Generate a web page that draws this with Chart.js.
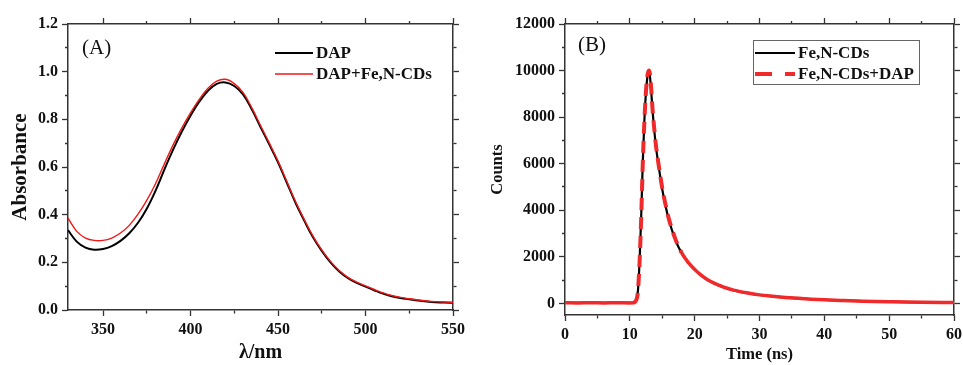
<!DOCTYPE html>
<html>
<head>
<meta charset="utf-8">
<script src="https://cdn.jsdelivr.net/npm/chart.js@4.4.0/dist/chart.umd.min.js"></script>
<style>
    body { margin: 0; background: #fff; }
    canvas { position: absolute; top: 0; }
    #chartA { left: 0; }
    #chartB { left: 480px; }
</style>
</head>
<body>
<canvas id="chartA" width="480" height="365"></canvas>
<canvas id="chartB" width="483" height="365"></canvas>
<script>
// panel A : absorbance spectra
var wavelength = [330,335,340,345,350,355,360,365,370,375,380,385,390,395,400,405,410,415,420,425,430,435,440,445,450,455,460,465,470,475,480,485,490,495,500,505,510,515,520,525,530,535,540,545,550]
var absDAP = [0.335,0.287,0.262,0.253,0.256,0.268,0.290,0.322,0.366,0.425,0.500,0.588,0.672,0.748,0.815,0.874,0.920,0.949,0.955,0.940,0.905,0.842,0.768,0.695,0.620,0.535,0.450,0.375,0.305,0.248,0.200,0.162,0.134,0.114,0.098,0.083,0.069,0.058,0.050,0.045,0.040,0.036,0.033,0.031,0.030]
var absDAPFe = [0.385,0.330,0.302,0.292,0.292,0.302,0.323,0.355,0.402,0.460,0.530,0.612,0.692,0.763,0.827,0.884,0.930,0.960,0.968,0.950,0.913,0.849,0.774,0.701,0.625,0.540,0.455,0.380,0.310,0.252,0.204,0.166,0.137,0.117,0.101,0.086,0.072,0.061,0.053,0.047,0.042,0.038,0.035,0.033,0.032]
var waveTicks = [350,400,450,500,550]
var waveMinor = [375,425,475,525]
var absTicks = [0,0.2,0.4,0.6,0.8,1.0,1.2]
var absMinor = [0.1,0.3,0.5,0.7,0.9,1.1]

// panel B : fluorescence decay
var time = [0,2,4,6,8,10,10.5,11,11.25,11.5,11.75,12,12.25,12.5,12.75,13,13.25,13.5,13.75,14,14.5,15,15.5,16,17,18,19,20,21,22,23,24,25,26,28,30,32,34,36,38,40,43,46,50,55,60]
var countsFe = [20,20,20,20,20,20,25,150,550,1800,3700,6100,7900,9100,9800,9950,9300,8300,7500,6800,5800,4900,4200,3600,2750,2150,1750,1450,1200,1000,860,740,640,560,450,360,300,250,210,180,150,120,95,70,45,35]
var countsFeDAP = [25,20,25,20,25,20,25,140,520,1750,3650,6050,7850,9150,9850,10000,9400,8350,7550,6850,5850,4950,4250,3650,2780,2170,1760,1460,1210,1010,870,750,650,570,455,365,305,255,215,180,150,120,95,70,45,35]
var timeTicks = [0,10,20,30,40,50,60]
var timeMinor = [5,15,25,35,45,55]
var countTicks = [0,2000,4000,6000,8000,10000,12000]
var countMinor = [1000,3000,5000,7000,9000,11000]

var serif = "'Liberation Serif', 'Times New Roman', serif"
var axisColor = '#333'

function toPoints(xs, ys){
    return xs.map(function(x, i){ return {x: x, y: ys[i]} })
}

function makeAxis(pos, major, minor, min, max, size, showLabels, fmt, title){
    var outerFirst = (pos == 'left' || pos == 'top')
    var all = major.concat(minor).sort(function(a, b){ return a - b })
    return {
        type: 'linear',
        position: pos,
        min: min,
        max: max,
        afterBuildTicks: function(scale){
            scale.ticks = all.map(function(v){ return {value: v} })
        },
        afterFit: function(scale){
            if (pos == 'left' || pos == 'right') scale.width = size
            else scale.height = size
            scale.paddingLeft = 0
            scale.paddingRight = 0
            scale.paddingTop = 0
            scale.paddingBottom = 0
        },
        grid: {
            drawOnChartArea: false,
            drawTicks: true,
            tickLength: 6,
            tickWidth: 1.3,
            tickColor: axisColor,
            tickBorderDash: function(ctx){
                return minor.indexOf(ctx.tick.value) >= 0 ? [3, 3] : []
            },
            tickBorderDashOffset: function(ctx){
                return (outerFirst && minor.indexOf(ctx.tick.value) >= 0) ? 3 : 0
            }
        },
        border: { display: true, color: axisColor, width: 1.5 },
        ticks: {
            display: showLabels,
            autoSkip: false,
            maxRotation: 0,
            padding: 4,
            color: '#111',
            font: { family: serif, size: 16, weight: 'bold' },
            callback: function(v){ return major.indexOf(v) >= 0 ? fmt(v) : '' }
        },
        title: title || { display: false }
    }
}

var decor = {
    id: 'decor',
    afterDraw: function(chart, args, o){
        var c = chart.ctx
        c.save()
        c.fillStyle = '#111'
        c.textBaseline = 'middle'
        c.font = '21px ' + serif
        c.fillText(o.label, o.labelX, o.labelY)
        if (o.box) {
            c.strokeStyle = '#666'
            c.lineWidth = 1
            c.strokeRect(o.box[0] + 0.5, o.box[1] + 0.5, o.box[2], o.box[3])
        }
        c.font = 'bold 17px ' + serif
        chart.data.datasets.slice().sort(function(a, b){ return b.order - a.order }).forEach(function(ds, i){
            var y = o.y + i * o.gap
            c.beginPath()
            c.strokeStyle = ds.borderColor
            c.lineWidth = ds.legendWidth
            c.setLineDash(ds.legendDash || [])
            c.moveTo(o.x, y)
            c.lineTo(o.x + o.len, y)
            c.stroke()
            c.setLineDash([])
            c.fillText(ds.label, o.x + o.len + 3, y + 1)
        })
        c.restore()
    }
}

new Chart(document.getElementById('chartA'), {
    type: 'line',
    data: {
        datasets: [{
            label: 'DAP+Fe,N-CDs',
            data: toPoints(wavelength, absDAPFe),
            borderColor: '#f01818',
            borderWidth: 1.4,
            legendWidth: 1.4,
            order: 0
        }, {
            label: 'DAP',
            data: toPoints(wavelength, absDAP),
            borderColor: '#000',
            borderWidth: 2,
            legendWidth: 2,
            order: 1
        }]
    },
    options: {
        responsive: false,
        animation: false,
        elements: { point: { radius: 0 }, line: { tension: 0.4 } },
        layout: { padding: { left: 0, right: 27, top: 24, bottom: 0 } },
        plugins: {
            legend: { display: false },
            tooltip: { enabled: false },
            decor: { label: '(A)', labelX: 82, labelY: 48, x: 275, y: 53, gap: 21, len: 38 }
        },
        scales: {
            x: makeAxis('bottom', waveTicks, waveMinor, 330, 550, 55, true, function(v){ return v },
                { display: true, text: 'λ/nm', color: '#111', font: { family: serif, size: 20, weight: 'bold' }, padding: { top: 0, bottom: 0 } }),
            x2: makeAxis('top', waveTicks, waveMinor, 330, 550, 0, false, function(v){ return '' }),
            y: makeAxis('left', absTicks, absMinor, 0, 1.2, 68, true, function(v){ return v.toFixed(1) },
                { display: true, text: 'Absorbance', color: '#111', font: { family: serif, size: 21, weight: 'bold' }, padding: { top: 8, bottom: 0 } }),
            y2: makeAxis('right', absTicks, absMinor, 0, 1.2, 0, false, function(v){ return '' })
        }
    },
    plugins: [decor]
})

new Chart(document.getElementById('chartB'), {
    type: 'line',
    data: {
        datasets: [{
            label: 'Fe,N-CDs+DAP',
            data: toPoints(time, countsFeDAP),
            borderColor: '#f02a2a',
            borderWidth: 3.5,
            legendWidth: 4,
            legendDash: [17, 13],
            segment: {
                borderDash: function(ctx){
                    var x = ctx.p0.parsed.x
                    return (x >= 10.5 && x < 18) ? [12, 7] : undefined
                },
                borderWidth: function(ctx){
                    var x = ctx.p0.parsed.x
                    return (x >= 10.5 && x < 18) ? 4 : 3.5
                }
            },
            order: 0
        }, {
            label: 'Fe,N-CDs',
            data: toPoints(time, countsFe),
            borderColor: '#000',
            borderWidth: 2.2,
            legendWidth: 2.2,
            order: 1
        }]
    },
    options: {
        responsive: false,
        animation: false,
        elements: { point: { radius: 0 }, line: { cubicInterpolationMode: 'monotone' } },
        layout: { padding: { left: 0, right: 9, top: 24, bottom: 0 } },
        plugins: {
            legend: { display: false },
            tooltip: { enabled: false },
            decor: { label: '(B)', labelX: 98, labelY: 45, x: 275, y: 53, gap: 21, len: 40, box: [273, 40, 166, 44] }
        },
        scales: {
            x: makeAxis('bottom', timeTicks, timeMinor, 0, 60, 50, true, function(v){ return v },
                { display: true, text: 'Time (ns)', color: '#111', font: { family: serif, size: 16.5, weight: 'bold' }, padding: { top: 0, bottom: 0 } }),
            x2: makeAxis('top', timeTicks, timeMinor, 0, 60, 0, false, function(v){ return '' }),
            y: makeAxis('left', countTicks, countMinor, -500, 12000, 85, true, function(v){ return v },
                { display: true, text: 'Counts', color: '#111', font: { family: serif, size: 16.5, weight: 'bold' }, padding: { top: 8, bottom: 0 } }),
            y2: makeAxis('right', countTicks, countMinor, -500, 12000, 0, false, function(v){ return '' })
        }
    },
    plugins: [decor]
})
</script>
</body>
</html>
